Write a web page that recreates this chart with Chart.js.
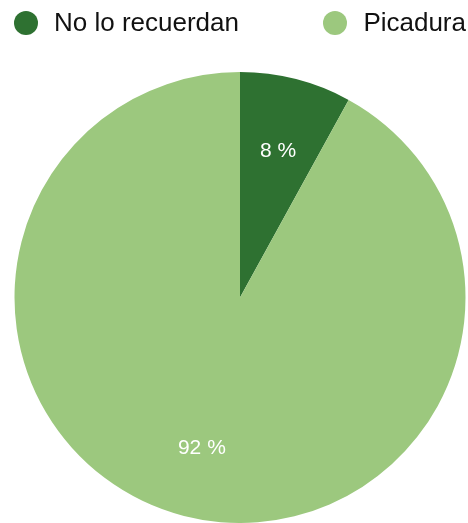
<!DOCTYPE html>
<html>
<head>
<meta charset="utf-8">
<script src="https://cdn.jsdelivr.net/npm/chart.js@4/dist/chart.umd.min.js"></script>
<style>
  html, body { margin: 0; padding: 0; background: #fff; }
  .wrap { position: relative; width: 468px; height: 523px; }
  #legend {
    position: absolute; top: 7px; left: 14px; width: 452px;
    display: flex; justify-content: space-between; align-items: center;
    font-family: "Liberation Sans", Arial, sans-serif; font-size: 26px; color: #111;
  }
  #legend .item { display: flex; align-items: center; }
  #legend .dot { width: 24px; height: 24px; border-radius: 50%; margin-right: 16px; }
</style>
</head>
<body>
<div class="wrap">
  <div id="legend"></div>
  <canvas id="pieChart" width="468" height="523"></canvas>
</div>
<script>
// Slices
const labels = ['No lo recuerdan', 'Picadura'];
const values = [8, 92];
const colors = ['#2e7131', '#9cc87e'];

// Legend row above the pie
const legendEl = document.getElementById('legend');
labels.forEach((name, i) => {
    const item = document.createElement('div');
    item.className = 'item';
    const dot = document.createElement('span');
    dot.className = 'dot';
    dot.style.background = colors[i];
    const txt = document.createElement('span');
    txt.textContent = name;
    item.appendChild(dot);
    item.appendChild(txt);
    legendEl.appendChild(item);
});

// Percent labels inside each slice
const sliceLabels = {
    id: 'sliceLabels',
    afterDatasetsDraw(chart) {
        const ctx = chart.ctx;
        const meta = chart.getDatasetMeta(0);
        ctx.save();
        ctx.fillStyle = '#ffffff';
        ctx.font = '21px "Liberation Sans", Arial, sans-serif';
        ctx.textAlign = 'center';
        ctx.textBaseline = 'middle';
        meta.data.forEach((arc, i) => {
            const p = arc.getProps(['x', 'y', 'startAngle', 'endAngle', 'outerRadius'], true);
            const mid = (p.startAngle + p.endAngle) / 2;
            const r = p.outerRadius * 0.68;
            ctx.fillText(values[i] + ' %', p.x + Math.cos(mid) * r, p.y + Math.sin(mid) * r + 2);
        });
        ctx.restore();
    }
};

new Chart(document.getElementById('pieChart').getContext('2d'), {
    type: 'pie',
    data: {
        labels: labels,
        datasets: [{
            data: values,
            backgroundColor: colors,
            borderWidth: 0
        }]
    },
    options: {
        responsive: false,
        animation: false,
        layout: { padding: { top: 72, left: 14, right: 2, bottom: -1 } },
        plugins: {
            legend: { display: false },
            tooltip: { enabled: false }
        }
    },
    plugins: [sliceLabels]
});
</script>
</body>
</html>
